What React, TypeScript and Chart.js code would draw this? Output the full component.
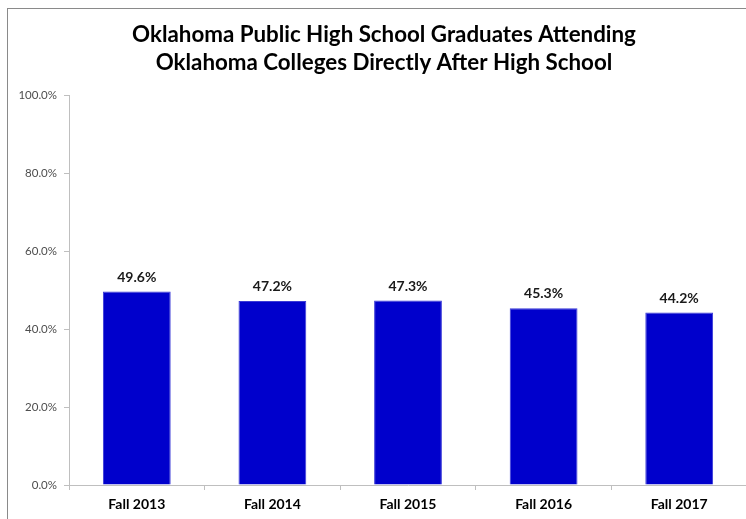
import React, { useEffect, useRef } from "react";
import { Chart, registerables } from "chart.js";

Chart.register(...registerables);

const TITLE_LINES = [
  "Oklahoma Public High School Graduates Attending",
  "Oklahoma Colleges Directly After High School",
];
const CATEGORIES = ["Fall 2013", "Fall 2014", "Fall 2015", "Fall 2016", "Fall 2017"];
const RATES = [49.6, 47.2, 47.3, 45.3, 44.2];
const Y_MIN = 0;
const Y_MAX = 100;
const Y_STEP = 20;

const FONT = "Lato, 'Open Sans', sans-serif";

const titlePlugin = {
  id: "customTitle",
  afterDraw(chart: any) {
    const ctx = chart.ctx as CanvasRenderingContext2D;
    ctx.save();
    ctx.fillStyle = "#000000";
    ctx.textAlign = "center";
    ctx.textBaseline = "alphabetic";
    ctx.font = `bold 22px ${FONT}`;
    const w = ctx.measureText(TITLE_LINES[0]).width;
    const size = (22 * 504) / w;
    ctx.font = `bold ${size.toFixed(2)}px ${FONT}`;
    ctx.fillText(TITLE_LINES[0], 384, 42);
    ctx.fillText(TITLE_LINES[1], 384, 70);
    ctx.restore();
  },
};

const valueLabelPlugin = {
  id: "valueLabels",
  afterDatasetsDraw(chart: any) {
    const ctx = chart.ctx as CanvasRenderingContext2D;
    const meta = chart.getDatasetMeta(0);
    const data = chart.data.datasets[0].data as number[];
    ctx.save();
    ctx.fillStyle = "#1a1a1a";
    ctx.font = `bold 14px ${FONT}`;
    ctx.textAlign = "center";
    ctx.textBaseline = "alphabetic";
    meta.data.forEach((el: any, i: number) => {
      ctx.fillText(`${data[i].toFixed(1)}%`, el.x, el.y - 10);
    });
    ctx.restore();
  },
};

export default function App() {
  const ref = useRef<HTMLCanvasElement | null>(null);

  useEffect(() => {
    if (!ref.current) return;
    const chart = new Chart(ref.current, {
      type: "bar",
      data: {
        labels: CATEGORIES,
        datasets: [
          {
            data: RATES,
            backgroundColor: "#0000CC",
            borderColor: "#3a3ad6",
            borderWidth: 1,
            barPercentage: 0.5,
            categoryPercentage: 1,
          },
        ],
      },
      options: {
        animation: false,
        responsive: false,
        devicePixelRatio: 1,
        layout: { padding: { top: 95, left: 0, right: 13, bottom: 0 } },
        plugins: {
          legend: { display: false },
          title: { display: false },
          tooltip: { enabled: false },
        },
        scales: {
          x: {
            grid: {
              display: true,
              drawOnChartArea: false,
              drawTicks: true,
              tickLength: 5,
              color: "#bfbfbf",
              offset: true,
            },
            border: { color: "#bfbfbf", width: 1 },
            ticks: {
              color: "#000000",
              font: { family: FONT, size: 14, weight: "bold" },
              padding: 6,
              maxRotation: 0,
            },
            afterFit: (scale: any) => {
              scale.height = 34;
            },
          },
          y: {
            min: Y_MIN,
            max: Y_MAX,
            grid: {
              display: true,
              drawOnChartArea: false,
              drawTicks: true,
              tickLength: 5,
              color: "#bfbfbf",
            },
            border: { color: "#bfbfbf", width: 1 },
            ticks: {
              stepSize: Y_STEP,
              color: "#4d4d4d",
              font: { family: FONT, size: 11.5 },
              padding: 7,
              callback: (v: any) => `${Number(v).toFixed(1)}%`,
            },
            afterFit: (scale: any) => {
              scale.width = 69;
            },
          },
        },
      },
      plugins: [titlePlugin, valueLabelPlugin],
    });
    return () => chart.destroy();
  }, []);

  return (
    <div
      style={{
        position: "fixed",
        left: 0,
        top: 0,
        width: 746,
        height: 519,
        overflow: "hidden",
        background: "#ffffff",
      }}
    >
      <div
        style={{
          position: "absolute",
          left: 7,
          top: 8,
          width: 800,
          height: 600,
          borderTop: "1px solid #8a8a8a",
          borderLeft: "1px solid #8a8a8a",
        }}
      />
      <canvas
        ref={ref}
        width={760}
        height={519}
        style={{ position: "absolute", left: 0, top: 0, width: 760, height: 519 }}
      />
    </div>
  );
}
